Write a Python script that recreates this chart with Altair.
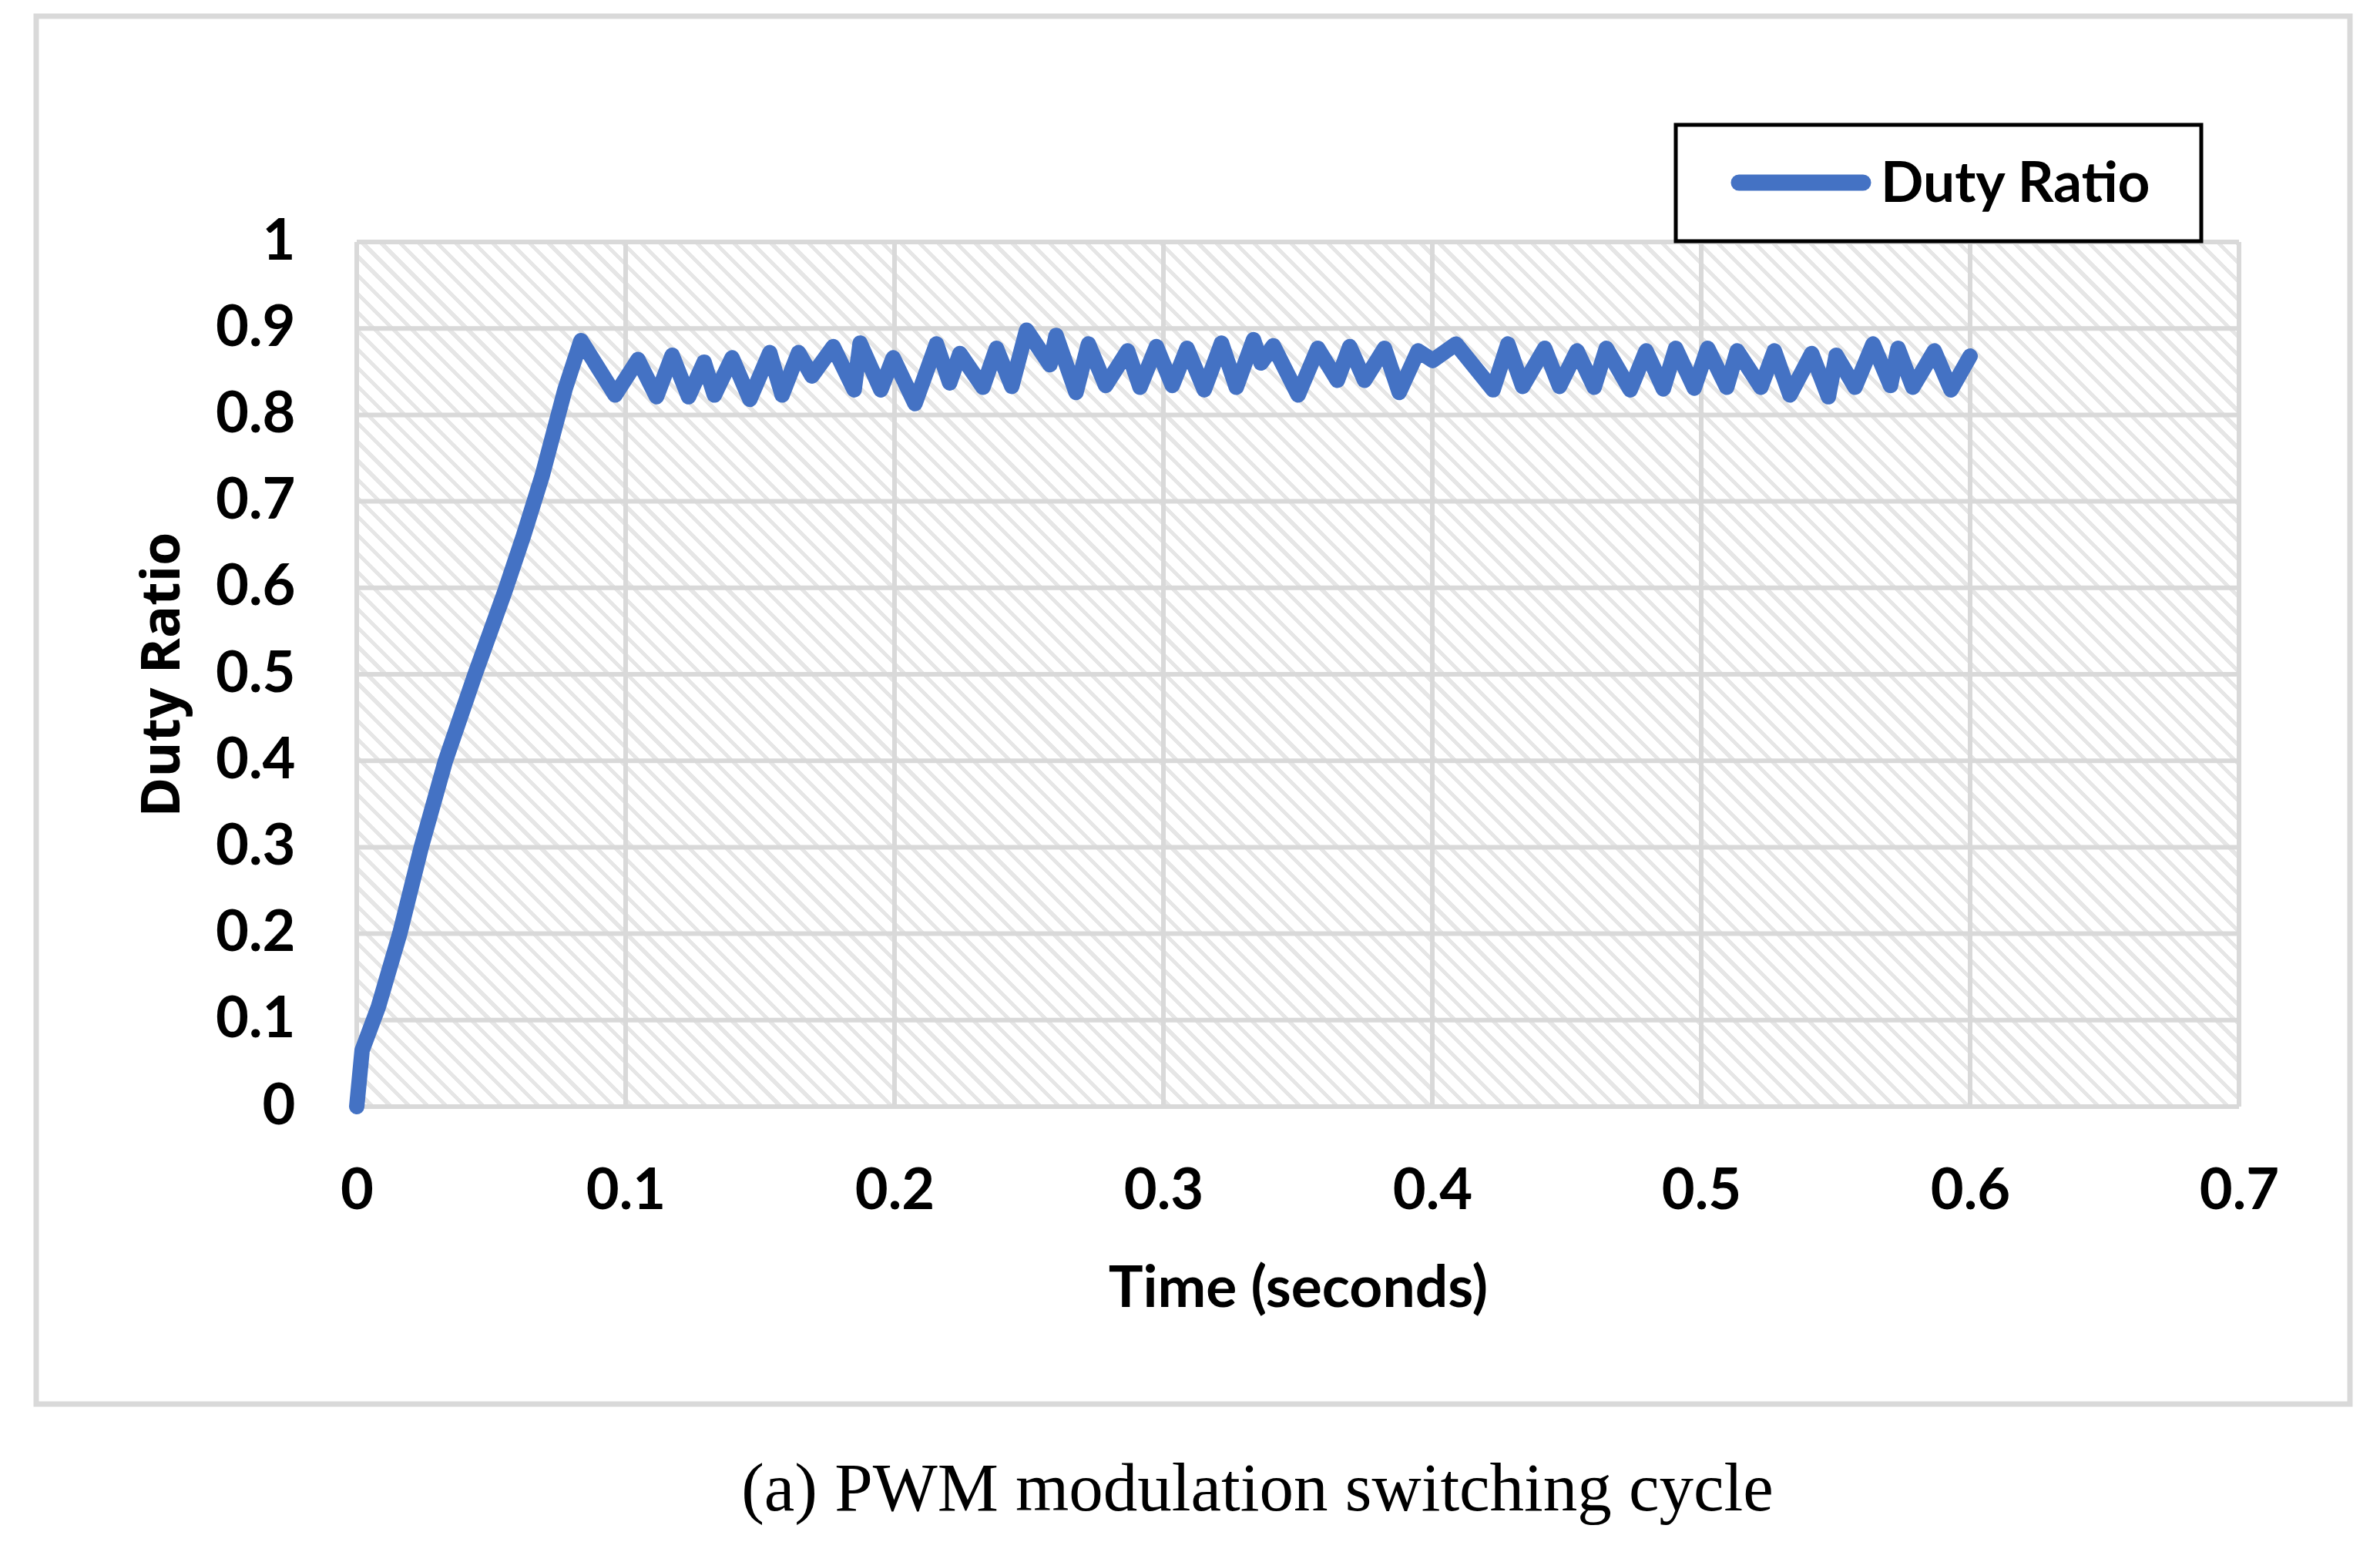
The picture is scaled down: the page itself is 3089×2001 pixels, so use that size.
import altair as alt
import pandas as pd

# Duty ratio: time in seconds, ratio 0..1
time_s = [
    0.000, 0.002, 0.008, 0.016, 0.024, 0.033, 0.044, 0.055, 0.062, 0.069, 0.0775,
    0.0834, 0.0961, 0.1046, 0.1115, 0.1173, 0.1234, 0.1292, 0.1330, 0.1396, 0.1462,
    0.1536, 0.1582, 0.1643, 0.1693, 0.1772, 0.1850, 0.1872, 0.1949, 0.1995, 0.2076,
    0.2156, 0.2205, 0.2243, 0.2329, 0.2379, 0.2436, 0.2491, 0.2578, 0.2601, 0.2675,
    0.2721, 0.2785, 0.2867, 0.2913, 0.2974, 0.3033, 0.3088, 0.3152, 0.3216, 0.3271,
    0.3335, 0.3363, 0.3409, 0.3501, 0.3574, 0.3647, 0.3693, 0.3748, 0.3822, 0.3877,
    0.3947, 0.4002, 0.4088, 0.4226, 0.4281, 0.4336, 0.4418, 0.4473, 0.4538, 0.4602,
    0.4647, 0.4736, 0.4795, 0.4859, 0.4905, 0.4974, 0.5024, 0.5095, 0.5134, 0.5222,
    0.5272, 0.5330, 0.5411, 0.5473, 0.5502, 0.5572, 0.5639, 0.5704, 0.5732, 0.5787,
    0.5867, 0.5929, 0.6000,
]
duty = [
    0.000, 0.065, 0.115, 0.200, 0.300, 0.400, 0.500, 0.595, 0.660, 0.730, 0.830,
    0.886, 0.823, 0.864, 0.821, 0.869, 0.821, 0.861, 0.823, 0.866, 0.818,
    0.872, 0.823, 0.872, 0.845, 0.879, 0.829, 0.883, 0.829, 0.866, 0.813,
    0.882, 0.837, 0.871, 0.832, 0.877, 0.833, 0.898, 0.858, 0.892, 0.826,
    0.882, 0.834, 0.874, 0.832, 0.879, 0.834, 0.877, 0.829, 0.883, 0.832,
    0.887, 0.860, 0.880, 0.823, 0.877, 0.840, 0.879, 0.840, 0.877, 0.826,
    0.874, 0.863, 0.882, 0.829, 0.882, 0.833, 0.877, 0.833, 0.874, 0.832,
    0.877, 0.829, 0.874, 0.830, 0.877, 0.831, 0.877, 0.832, 0.874, 0.832,
    0.874, 0.823, 0.871, 0.821, 0.869, 0.832, 0.882, 0.834, 0.877, 0.832,
    0.874, 0.829, 0.868,
]

x_ticks = [0, 0.1, 0.2, 0.3, 0.4, 0.5, 0.6, 0.7]
y_ticks = [0, 0.1, 0.2, 0.3, 0.4, 0.5, 0.6, 0.7, 0.8, 0.9, 1]

series_name = "Duty Ratio"
x_title = "Time (seconds)"
y_title = "Duty Ratio"
caption = "(a) PWM modulation switching cycle"

W, H = 2443, 1122
BLUE = "#4472C4"
GRID = "#d9d9d9"

df = pd.DataFrame({"time": time_s, "duty": duty, "series": series_name})
one = pd.DataFrame({"k": [0]})

x_scale = alt.Scale(domain=[0, 0.7], nice=False, zero=False)
y_scale = alt.Scale(domain=[0, 1], nice=False)

x_axis = alt.Axis(
    values=x_ticks, format="~g", grid=False, domain=False, ticks=False,
    tickSize=0, labelFlush=False, labelOverlap=False,
    labelFont="Lato", labelFontWeight="bold", labelFontSize=74,
    labelColor="black", labelPadding=132, labelBaseline="alphabetic",
    title=x_title, titleFont="Lato", titleFontWeight="bold",
    titleFontSize=75, titleColor="black", titleBaseline="alphabetic",
    titleAlign="center", titleX=W / 2, titleY=259)

y_axis = alt.Axis(
    values=y_ticks, format="~g", grid=False, domain=False, ticks=False,
    tickSize=0, labelFlush=False, labelOverlap=False,
    labelFont="Lato", labelFontWeight="bold", labelFontSize=74,
    labelColor="black", labelPadding=80, labelBaseline="middle",
    title=y_title, titleFont="Open Sans", titleFontWeight="bold",
    titleFontSize=70, titleColor="black", titleBaseline="alphabetic",
    titleAlign="center", titleAngle=270, titleX=-231, titleY=H / 2)

# diagonal hatch of the plot area, done as a striped linear gradient
n_stripes = 148
stops = []
for i in range(n_stripes):
    a = i / n_stripes
    b = (i + 0.3) / n_stripes
    stops += [
        {"offset": a, "color": "#ffffff"},
        {"offset": a, "color": "#e6e6e6"},
        {"offset": b, "color": "#e6e6e6"},
        {"offset": b, "color": "#ffffff"},
    ]
gx, gy = -1 / H, 1 / W
s = (gy - gx) / (gx * gx + gy * gy)
hatch = {"gradient": "linear", "x1": 1, "y1": 0,
         "x2": 1 + s * gx, "y2": s * gy, "stops": stops}

bg = alt.Chart(one).mark_rect(fill=hatch).encode(
    x=alt.value(0), x2=alt.value("width"),
    y=alt.value(0), y2=alt.value("height")
)

vgrid = alt.Chart(pd.DataFrame({"t": x_ticks})).mark_rule(
    color=GRID, strokeWidth=6
).encode(x=alt.X("t:Q", scale=x_scale, axis=x_axis))

hgrid = alt.Chart(pd.DataFrame({"v": y_ticks})).mark_rule(
    color=GRID, strokeWidth=6
).encode(y=alt.Y("v:Q", scale=y_scale, axis=y_axis))

line = alt.Chart(df).mark_line(
    color=BLUE, strokeWidth=20, strokeJoin="round", strokeCap="round"
).encode(
    x=alt.X("time:Q", scale=x_scale, axis=x_axis),
    y=alt.Y("duty:Q", scale=y_scale, axis=y_axis),
)

# outer light grey frame round the chart
frame = alt.Chart(one).mark_rect(
    fillOpacity=0, stroke=GRID, strokeWidth=7
).encode(x=alt.value(-416), x2=alt.value(2587),
         y=alt.value(-293), y2=alt.value(1508))

# legend box, drawn by hand so it matches the boxed Excel legend
legend_box = alt.Chart(one).mark_rect(
    fill="white", stroke="black", strokeWidth=5
).encode(x=alt.value(1712), x2=alt.value(2394),
         y=alt.value(-152), y2=alt.value(-1))

legend_line = alt.Chart(one).mark_rule(
    color=BLUE, strokeWidth=21, strokeCap="round"
).encode(x=alt.value(1794), x2=alt.value(1955), y=alt.value(-77))

legend_text = alt.Chart(pd.DataFrame({"label": [series_name]})).mark_text(
    font="Lato", fontWeight="bold", fontSize=73, color="black",
    align="left", baseline="alphabetic"
).encode(text="label:N", x=alt.value(1978), y=alt.value(-52))

caption_text = alt.Chart(pd.DataFrame({"label": [caption]})).mark_text(
    font="Liberation Serif", fontSize=89, color="black",
    align="center", baseline="alphabetic"
).encode(text="label:N", x=alt.value(1169), y=alt.value(1646))

chart = alt.layer(
    bg, vgrid, hgrid, line, frame, legend_box, legend_line, legend_text, caption_text
).properties(
    width=W, height=H,
    autosize=alt.AutoSizeParams(type="none"),
    padding={"left": 455, "top": 306, "right": 170, "bottom": 560},
    background="white",
).configure_view(stroke=None)

chart.save("out.html", embed_options={"renderer": "svg", "actions": False})
